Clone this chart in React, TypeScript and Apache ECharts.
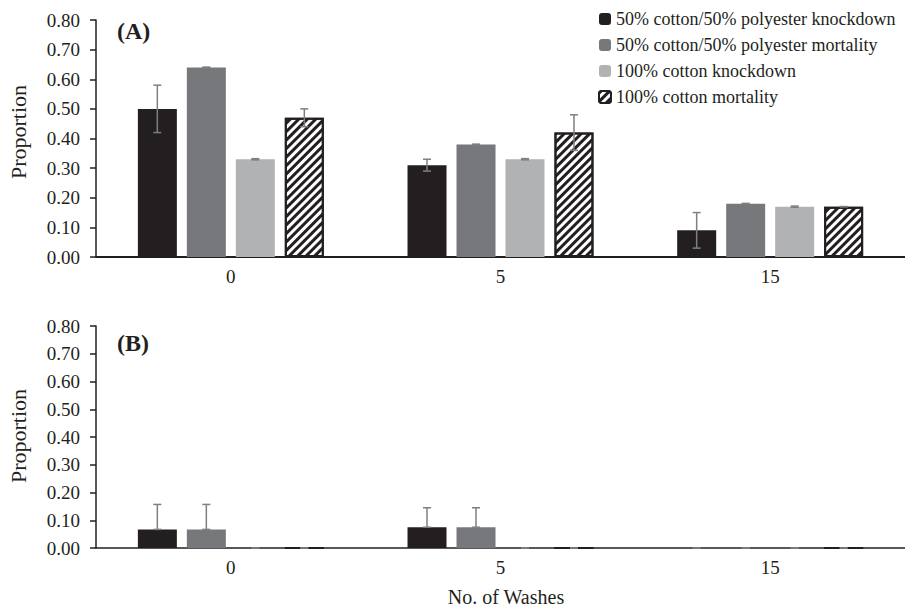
import React, { useEffect, useRef } from "react";
import * as echarts from "echarts";

const categories = ["0", "5", "15"];
const seriesNames = [
  "50% cotton/50% polyester knockdown",
  "50% cotton/50% polyester mortality",
  "100% cotton knockdown",
  "100% cotton mortality",
];
const yTicks = ["0.00", "0.10", "0.20", "0.30", "0.40", "0.50", "0.60", "0.70", "0.80"];

// Panel A values
const knock5050A = [0.5, 0.31, 0.09];
const mort5050A = [0.64, 0.38, 0.18];
const knock100A = [0.33, 0.33, 0.17];
const mort100A = [0.47, 0.42, 0.17];
// Panel A errors (±)
const knock5050AErr = [0.08, 0.02, 0.06];
const mort5050AErr = [0.001, 0.001, 0.001];
const knock100AErr = [0.002, 0.002, 0.002];
const mort100AErr = [0.03, 0.06, 0.0];

// Panel B values
const knock5050B = [0.067, 0.075, 0];
const mort5050B = [0.067, 0.075, 0];
const knock100B = [0, 0, 0];
const mort100B = [0, 0, 0];
// Panel B errors (upper only)
const knock5050BErr = [0.09, 0.07, 0];
const mort5050BErr = [0.09, 0.07, 0];
const knock100BErr = [0, 0, 0];
const mort100BErr = [0, 0, 0];

const FONT = "Liberation Serif";
const TEXT = "#231f20";
const COLORS = ["#231f20", "#77787b", "#b1b2b4", "#ffffff"];
const BAR_W = 39;
const OFFSETS = [-73.5, -24.5, 24.5, 73.5];

export default function App() {
  const ref = useRef<HTMLDivElement>(null);
  useEffect(() => {
    if (!ref.current) return;
    const chart = echarts.init(ref.current, null, { renderer: "svg" });

    const valsA = [knock5050A, mort5050A, knock100A, mort100A];
    const errsA = [knock5050AErr, mort5050AErr, knock100AErr, mort100AErr];
    const valsB = [knock5050B, mort5050B, knock100B, mort100B];
    const errsB = [knock5050BErr, mort5050BErr, knock100BErr, mort100BErr];

    const grids = [
      { left: 96, right: 0, top: 20, height: 237 },
      { left: 96, right: 0, top: 326, height: 222 },
    ];

    const xAxes = grids.map((_, i) => ({
      type: "category",
      gridIndex: i,
      data: categories,
      axisTick: { show: false },
      axisLine: { lineStyle: { color: TEXT, width: i === 0 ? 2 : 1.5 } },
      axisLabel: { fontFamily: FONT, fontSize: 19, color: TEXT, margin: 10 },
    }));
    const yAxes = grids.map((_, i) => ({
      type: "value",
      gridIndex: i,
      min: 0,
      max: 0.8,
      interval: 0.1,
      splitLine: { show: false },
      axisLine: { show: true, lineStyle: { color: TEXT, width: 1.5 } },
      axisTick: { show: true, length: 6, lineStyle: { color: TEXT, width: 1.5 } },
      axisLabel: {
        fontFamily: FONT,
        fontSize: 19,
        color: TEXT,
        margin: 16,
        formatter: (v: number) => yTicks[Math.round(v * 10)],
      },
    }));

    const barStyle = (k: number) =>
      k === 3
        ? {
            color: "#ffffff",
            borderColor: "#231f20",
            borderWidth: 2,
            decal: {
              symbol: "rect",
              symbolSize: 1,
              color: "#231f20",
              dashArrayX: [1, 0],
              dashArrayY: [3, 3],
              rotation: -Math.PI / 4,
            },
          }
        : { color: COLORS[k] };

    const series: any[] = [];
    [valsA, valsB].forEach((vals, g) => {
      vals.forEach((arr, k) => {
        series.push({
          type: "bar",
          name: seriesNames[k],
          xAxisIndex: g,
          yAxisIndex: g,
          data: arr,
          barWidth: BAR_W,
          barGap: "25.6%",
          itemStyle: barStyle(k),
          emphasis: { disabled: true },
        });
      });
    });

    const errData = (vals: number[][], errs: number[][], upperOnly: boolean) => {
      const out: number[][] = [];
      vals.forEach((arr, k) => {
        arr.forEach((v, c) => {
          const e = errs[k][c];
          out.push([c, k, upperOnly ? v : Math.max(0, v - e), v + e]);
        });
      });
      return out;
    };

    const renderErr = (params: any, api: any) => {
      const c = api.value(0);
      const k = api.value(1);
      const lo = api.coord([c, api.value(2)]);
      const hi = api.coord([c, api.value(3)]);
      const x = lo[0] + OFFSETS[k];
      const cap = 4;
      const style = { stroke: "#7f7f7f", lineWidth: 1.5 };
      return {
        type: "group",
        children: [
          { type: "line", shape: { x1: x, y1: lo[1], x2: x, y2: hi[1] }, style },
          { type: "line", shape: { x1: x - cap, y1: hi[1], x2: x + cap, y2: hi[1] }, style },
          { type: "line", shape: { x1: x - cap, y1: lo[1], x2: x + cap, y2: lo[1] }, style },
        ],
      };
    };

    series.push({
      type: "custom",
      xAxisIndex: 0,
      yAxisIndex: 0,
      renderItem: renderErr,
      data: errData(valsA, errsA, false),
      z: 5,
      silent: true,
    });
    series.push({
      type: "custom",
      xAxisIndex: 1,
      yAxisIndex: 1,
      renderItem: renderErr,
      data: errData(valsB, errsB, true),
      z: 5,
      silent: true,
    });

    chart.setOption({
      animation: false,
      grid: grids,
      xAxis: xAxes,
      yAxis: yAxes,
      legend: {
        data: seriesNames,
        orient: "vertical",
        left: 593,
        top: 5,
        itemWidth: 12,
        itemHeight: 12,
        itemGap: 8,
        selectedMode: false,
        textStyle: { fontFamily: FONT, fontSize: 18, color: TEXT, lineHeight: 18 },
      },
      graphic: [
        {
          type: "text",
          x: 117,
          y: 31,
          style: { text: "(A)", font: `bold 24px "${FONT}"`, fill: TEXT, verticalAlign: "middle" },
        },
        {
          type: "text",
          x: 117,
          y: 343,
          style: { text: "(B)", font: `bold 24px "${FONT}"`, fill: TEXT, verticalAlign: "middle" },
        },
        {
          type: "text",
          x: 18,
          y: 132,
          rotation: Math.PI / 2,
          style: { text: "Proportion", font: `22px "${FONT}"`, fill: TEXT, align: "center", verticalAlign: "middle" },
        },
        {
          type: "text",
          x: 18,
          y: 436,
          rotation: Math.PI / 2,
          style: { text: "Proportion", font: `22px "${FONT}"`, fill: TEXT, align: "center", verticalAlign: "middle" },
        },
        {
          type: "text",
          x: 506,
          y: 597,
          style: { text: "No. of Washes", font: `20px "${FONT}"`, fill: TEXT, align: "center", verticalAlign: "middle" },
        },
      ],
      series,
    });
    return () => chart.dispose();
  }, []);
  return (
    <div
      ref={ref}
      style={{ position: "absolute", left: 0, top: 0, width: 905, height: 610, background: "#fff" }}
    />
  );
}
